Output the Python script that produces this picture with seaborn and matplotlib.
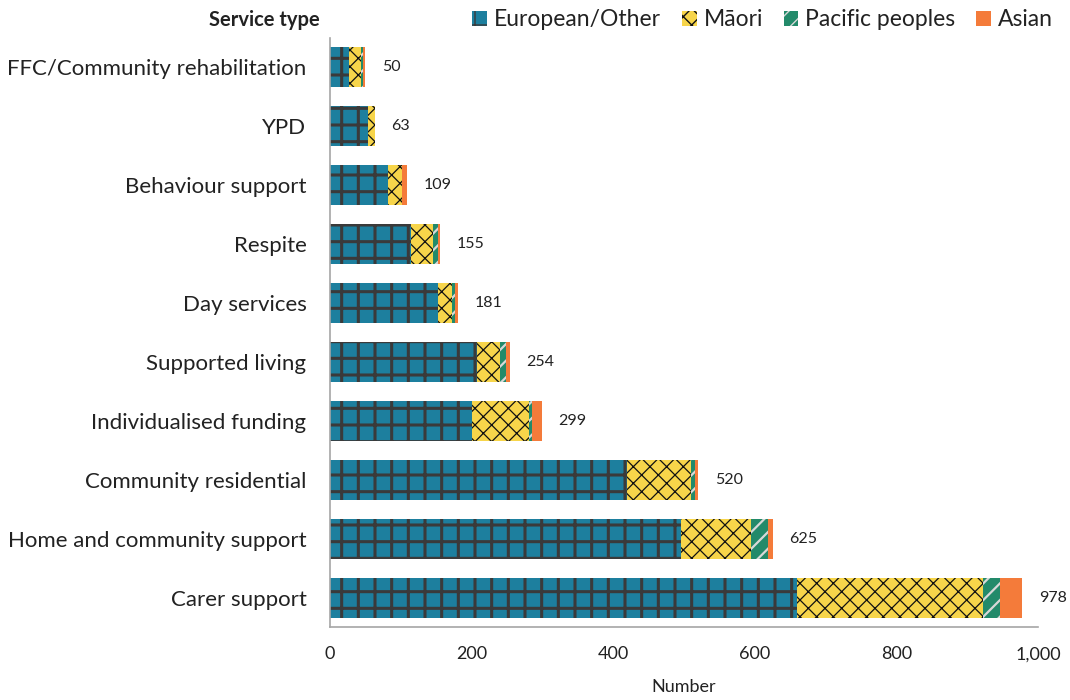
import matplotlib
matplotlib.use("Agg")
import matplotlib.pyplot as plt
import seaborn as sns
import pandas as pd
import numpy as np
from matplotlib.patches import Patch

categories = ["FFC/Community rehabilitation", "YPD", "Behaviour support", "Respite",
              "Day services", "Supported living", "Individualised funding",
              "Community residential", "Home and community support", "Carer support"]
european = [27, 54, 82, 115, 153, 207, 200, 420, 496, 659]
maori = [17, 9, 20, 31, 20, 33, 81, 90, 99, 263]
pacific = [2, 0, 0, 6, 4, 8, 5, 6, 23, 24]
asian = [4, 0, 7, 3, 4, 6, 13, 4, 7, 32]
totals = [50, 63, 109, 155, 181, 254, 299, 520, 625, 978]
series_names = ["European/Other", "Māori", "Pacific peoples", "Asian"]
xticks = [0, 200, 400, 600, 800, 1000]
xtick_labels = ["0", "200", "400", "600", "800", "1,000"]

sns.set_theme(style="white")
plt.rcParams["font.family"] = ["Lato", "DejaVu Sans"]

df = pd.DataFrame({"cat": categories, "eu": european, "ma": maori,
                   "pa": pacific, "as": asian})
df["c_eu"] = df["eu"]
df["c_ma"] = df["c_eu"] + df["ma"]
df["c_pa"] = df["c_ma"] + df["pa"]
df["c_as"] = df["c_pa"] + df["as"]

fig = plt.figure(figsize=(10.7, 7.0), dpi=100)
ax = fig.add_axes([330 / 1070, 73 / 700, 708 / 1070, 589 / 700])

colors = ["#1d7f9e", "#f7d54a", "#238a6a", "#f47b3a"]
hatches = ["+", "xx", "//", None]
hcolors = ["#3a3a3a", "#111111", "#d8d8d8", "#f47b3a"]
hlw = [2.2, 0.9, 1.6, 0.5]
cols = ["c_eu", "c_ma", "c_pa", "c_as"]

for i in [3, 2, 1, 0]:
    with plt.rc_context({"hatch.linewidth": hlw[i]}):
        kw = dict(edgecolor=hcolors[i], linewidth=0)
        if hatches[i]:
            kw["hatch"] = hatches[i]
        sns.barplot(data=df, x=cols[i], y="cat", orient="h", color=colors[i],
                    saturation=1, width=0.68, errorbar=None, ax=ax, **kw)
        for p in ax.patches:
            if hasattr(p, "set_hatch_linewidth") and p.get_facecolor()[:3] == matplotlib.colors.to_rgb(colors[i]):
                p.set_hatch_linewidth(hlw[i])

for yi, t in enumerate(totals):
    ax.annotate(f"{t}", xy=(df["c_as"][yi], yi), xytext=(12, 0),
                textcoords="offset points", va="center", ha="left",
                fontsize=11.5, color="#222222")

ax.set_xlim(0, 1000)
ax.set_ylim(9.5, -0.5)
ax.set_xticks(xticks)
ax.set_xticklabels(xtick_labels, fontsize=13, color="#222222")
ax.tick_params(axis="y", labelsize=16, colors="#222222", length=0, pad=17)
ax.tick_params(axis="x", length=0, pad=14)
ax.set_xlabel("Number", fontsize=13, color="#222222", labelpad=12)
ax.set_ylabel("")
for s in ["top", "right"]:
    ax.spines[s].set_visible(False)
for s in ["left", "bottom"]:
    ax.spines[s].set_color("#a6a6a6")
    ax.spines[s].set_linewidth(1.2)

fig.text(264 / 1070, 1 - 20 / 700, "Service type", ha="center", va="center",
         fontsize=14.5, fontweight="bold", color="#222222")

handles = []
for i in range(4):
    kw = dict(facecolor=colors[i], edgecolor=hcolors[i], linewidth=0)
    if hatches[i]:
        kw["hatch"] = hatches[i]
    handles.append(Patch(label=series_names[i], **kw))
leg = fig.legend(handles=handles, loc="center right", ncol=4,
                 bbox_to_anchor=(1062 / 1070, 1 - 20 / 700), frameon=False,
                 fontsize=16.5, handlelength=0.65, handleheight=0.65,
                 handletextpad=0.3, columnspacing=0.9, borderaxespad=0)
for t in leg.get_texts():
    t.set_color("#222222")

fig.savefig("out.png", dpi=100)
